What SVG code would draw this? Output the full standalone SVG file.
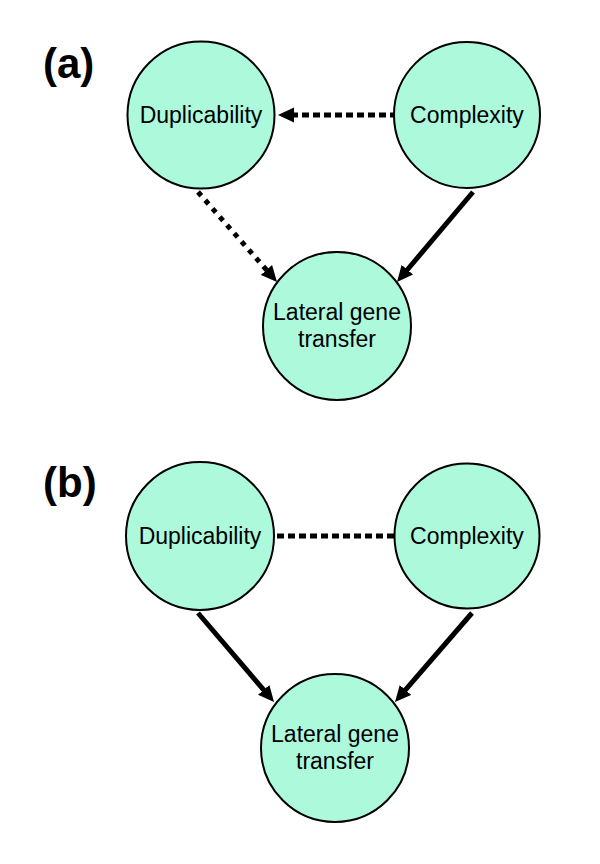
<svg xmlns="http://www.w3.org/2000/svg" width="600" height="864" viewBox="0 0 600 864">
<style>
.node{fill:#adf9dc;stroke:#000;stroke-width:2}
.lbl{font-family:"Liberation Sans",Arial,sans-serif;font-size:23px;fill:#000;text-anchor:middle}
.panel{font-family:"Liberation Sans",Arial,sans-serif;font-size:42px;font-weight:bold;fill:#000}
.edge{stroke:#000;stroke-width:5;fill:none}
.dashh{stroke-dasharray:7,4}
.dotd{stroke-dasharray:5,6}
</style>
<defs>
<marker id="ah" markerUnits="userSpaceOnUse" markerWidth="18" markerHeight="16" refX="1" refY="8" orient="auto">
<path d="M0,0.5 L16,8 L0,15.5 z" fill="#000"/>
</marker>
</defs>
<rect width="600" height="864" fill="#fff"/>
<text class="panel" x="43" y="78">(a)</text>
<text class="panel" x="43" y="497">(b)</text>
<g id="connectors">
<line class="edge dashh" x1="397" y1="115" x2="293" y2="115" marker-end="url(#ah)"/>
<line class="edge dotd" x1="198" y1="192" x2="267.1" y2="270.7" marker-end="url(#ah)"/>
<line class="edge" x1="473" y1="192" x2="406.7" y2="270.5" marker-end="url(#ah)"/>
<line class="edge dashh" x1="277" y1="536" x2="397" y2="536"/>
<line class="edge" x1="198" y1="613" x2="264.3" y2="690.6" marker-end="url(#ah)"/>
<line class="edge" x1="472" y1="613" x2="404.8" y2="690.7" marker-end="url(#ah)"/>
</g>
<g id="a-duplicability">
<circle class="node" cx="201" cy="115" r="73.5"/>
<text class="lbl" x="201" y="123">Duplicability</text>
</g>
<g id="a-complexity">
<circle class="node" cx="467" cy="115" r="73"/>
<text class="lbl" x="467" y="123">Complexity</text>
</g>
<g id="a-lgt">
<circle class="node" cx="337" cy="326" r="74"/>
<text class="lbl" x="337" y="320">Lateral gene</text>
<text class="lbl" x="337" y="347">transfer</text>
</g>
<g id="b-duplicability">
<circle class="node" cx="200" cy="536" r="74"/>
<text class="lbl" x="200" y="544">Duplicability</text>
</g>
<g id="b-complexity">
<circle class="node" cx="467" cy="536" r="72.5"/>
<text class="lbl" x="467" y="544">Complexity</text>
</g>
<g id="b-lgt">
<circle class="node" cx="335" cy="748" r="74"/>
<text class="lbl" x="335" y="742">Lateral gene</text>
<text class="lbl" x="335" y="769">transfer</text>
</g>
</svg>
